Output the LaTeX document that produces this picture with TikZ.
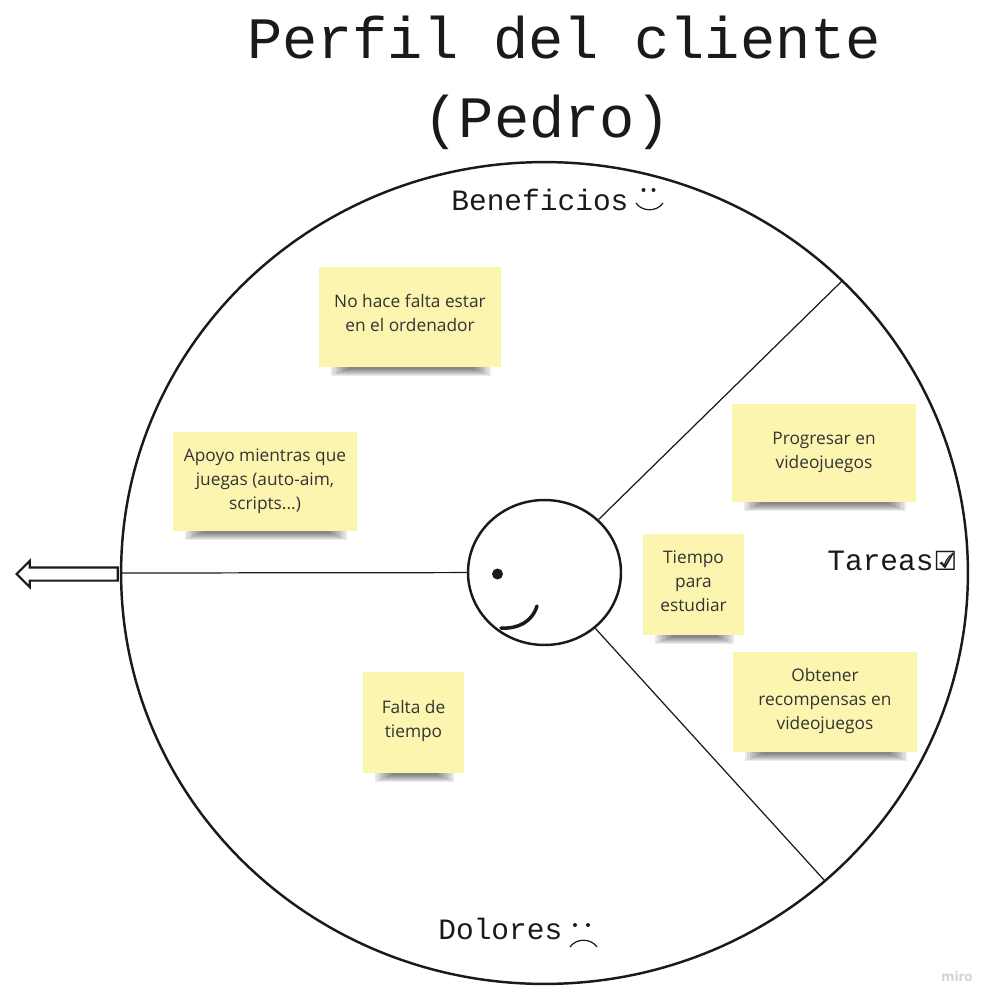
\documentclass[tikz,border=0pt]{standalone}
\usepackage{fontspec}
\setmainfont{Open Sans}
\newfontfamily\monofont{Liberation Mono}
\newfontfamily\symfont{DejaVu Sans}
\usetikzlibrary{shapes}
\usetikzlibrary{shapes.arrows}
\definecolor{notecolor}{HTML}{FCF5B0}
\definecolor{inkcolor}{HTML}{1A1A1A}
\tikzset{
    note/.style = {fill = notecolor, align = center, inner sep = 0pt, text = black!80,
        font = \fontsize{9.85}{13.6}\selectfont},
    heading/.style = {anchor = base west, inner sep = 0pt, text = inkcolor,
        font = \monofont\fontsize{16.8}{20}\selectfont},
    bigtitle/.style = {anchor = base, inner sep = 0pt, text = inkcolor,
        font = \monofont\fontsize{33.4}{40}\selectfont},
}

\begin{document}
\begin{tikzpicture}[%
        x = 0.02cm,
        y = -0.02cm,
        draw = inkcolor,
        ]

\useasboundingbox[] (0,0) rectangle (996,1003);

\node (title1) [bigtitle] at (564,58.5) {Perfil del cliente};
\node (title2) [bigtitle] at (547,138) {(Pedro)};


\node (wheel) [ellipse, draw, line width = 1.4pt, inner sep = 0pt,
    minimum width = 16.94cm, minimum height = 16.44cm] at (544.5,573) {};
\node (face) [ellipse, draw, line width = 1.4pt, inner sep = 0pt,
    minimum width = 3.06cm, minimum height = 2.9cm] at (544.5,572.5) {};

\coordinate (gainend) at (843,280);
\coordinate (painend) at (825,881);

\draw[line width = 0.7pt] (face) -- (wheel.west);
\draw[line width = 0.7pt] (face) -- (gainend);
\draw[line width = 0.7pt] (face) -- (painend);

% eye and mouth
\fill[inkcolor] (497.5,574) circle (5.5);
\draw[line width = 2pt, line cap = round] (537,606) .. controls (532,622) and (518,629) .. (501,628);


\node (exit) [single arrow, draw, line width = 1.2pt, fill = white, inner sep = 0.11cm,
    shape border rotate = 180, single arrow head extend = 0.13cm,
    single arrow head indent = 0cm,
    minimum width = 0.46cm, minimum height = 2.02cm] at (70.5,574) {};


\node (benefit1) [note, text depth = 0.15cm, minimum width = 3.64cm, minimum height = 2cm] at (410,317)
    {No hace falta estar\\en el ordenador};
\node (benefit2) [note, minimum width = 3.68cm, minimum height = 1.98cm] at (265,481.5)
    {Apoyo mientras que\\juegas (auto-aim,\\scripts...)};
\node (task1) [note, text depth = 0.09cm, minimum width = 3.68cm, minimum height = 1.96cm] at (824,453)
    {Progresar en\\videojuegos};
\node (task2) [note, text depth = 0.13cm, minimum width = 2.02cm, minimum height = 2.02cm] at (693.5,584.5)
    {Tiempo\\para\\estudiar};
\node (task3) [note, text depth = 0.12cm, minimum width = 3.68cm, minimum height = 2cm] at (825,702)
    {Obtener\\recompensas en\\videojuegos};
\node (pain1) [note, text depth = 0.16cm, minimum width = 2.02cm, minimum height = 2.02cm] at (413.5,722.5)
    {Falta de\\tiempo};

% soft shadow under each note
\foreach \NOTE in {benefit1,benefit2,task1,task2,task3,pain1}{
    \foreach \STEP in {0,...,7}{
        \fill[black, opacity = 0.08]
            ([xshift = 0.24cm+\STEP*0.05cm]\NOTE.south west)
            rectangle ([xshift = -0.2cm-\STEP*0.05cm, yshift = -0.18cm+\STEP*0.02cm]\NOTE.south east);
        }
    }


\node (benefits) [heading] at (451,211) {Beneficios};
\node (tasks) [heading] at (827,570) {Tareas{\symfont\fontsize{15}{15}\selectfont ☑}};
\node (pains) [heading] at (438,939) {Dolores};

% heavier tick in the box
\draw[line width = 1pt] (941,562) -- (945,567) -- (953,553);

% smile and frown
\foreach \X in {643.5,653.5}{
    \fill[inkcolor] (\X,190) circle (2);
    }
\draw[line width = 0.7pt] (636,203) .. controls (642,212) and (657,212) .. (663,203);
\foreach \X in {575,588}{
    \fill[inkcolor] (\X,925) circle (2);
    }
\draw[line width = 0.7pt] (570,947) .. controls (576,938) and (591,938) .. (597,947);


\node (miro) [text = black!18, inner sep = 0pt, font = \fontsize{7.6}{8}\selectfont\bfseries] at (957,976) {miro};

\end{tikzpicture}
\end{document}
